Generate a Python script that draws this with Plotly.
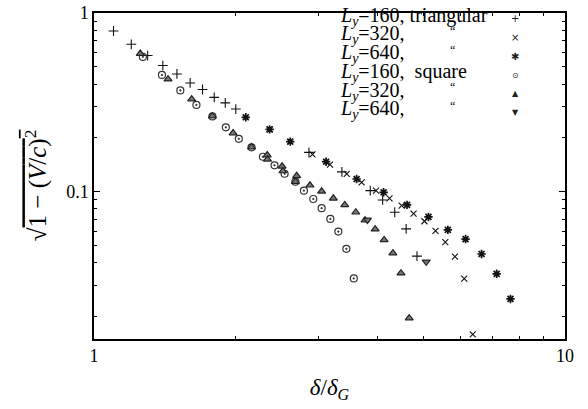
import plotly.graph_objects as go

# ---- data ----
x_tri160 = [1.1, 1.2, 1.3, 1.4, 1.5, 1.6, 1.7, 1.8, 1.9, 2.0, 2.86, 3.36, 3.86, 4.1, 4.35, 4.6, 4.85]
y_tri160 = [0.793, 0.668, 0.578, 0.508, 0.456, 0.406, 0.373, 0.337, 0.314, 0.290, 0.166, 0.129, 0.1013, 0.0899, 0.0767, 0.0619, 0.0436]

x_tri320 = [2.36, 2.91, 3.17, 3.44, 3.70, 3.97, 4.24, 4.50, 4.77, 5.03, 5.31, 5.57, 5.84, 6.11, 6.37]
y_tri320 = [0.2232, 0.1618, 0.1415, 0.1256, 0.1128, 0.1013, 0.0918, 0.0835, 0.0753, 0.0683, 0.0603, 0.0522, 0.0433, 0.0326, 0.0159]

x_tri640 = [2.10, 2.36, 2.61, 3.11, 3.61, 4.12, 4.62, 5.13, 5.64, 6.15, 6.65, 7.16, 7.66]
y_tri640 = [0.2608, 0.2232, 0.1907, 0.1471, 0.1177, 0.0992, 0.0843, 0.0722, 0.0611, 0.0543, 0.0448, 0.0347, 0.0251]

x_sq160 = [1.27, 1.394, 1.525, 1.65, 1.784, 1.905, 2.03, 2.16, 2.284, 2.417, 2.539, 2.677, 2.791, 2.921, 3.043, 3.175, 3.302, 3.434, 3.561]
y_sq160 = [0.568, 0.450, 0.3685, 0.306, 0.2638, 0.2293, 0.1977, 0.177, 0.1568, 0.1404, 0.126, 0.1137, 0.1013, 0.091, 0.0808, 0.0704, 0.0598, 0.0479, 0.0327]

x_sq320 = [1.254, 1.436, 1.612, 1.784, 1.974, 2.16, 2.332, 2.335, 2.508, 2.518, 2.693, 2.677, 2.874, 3.043, 3.222, 3.407, 3.596, 3.763, 3.953, 4.13, 4.311, 4.485, 4.669]
y_sq320 = [0.593, 0.426, 0.3296, 0.2648, 0.2128, 0.1777, 0.1603, 0.1517, 0.1386, 0.1305, 0.1227, 0.1137, 0.1086, 0.1005, 0.0918, 0.0843, 0.0767, 0.0692, 0.0617, 0.0537, 0.0453, 0.0350, 0.0196]

x_sq640 = [3.806, 5.074]
y_sq640 = [0.0695, 0.0405]

legend_labels = [
    "<i>L</i><sub><i>y</i></sub>=160, triangular",
    "<i>L</i><sub><i>y</i></sub>=320,",
    "<i>L</i><sub><i>y</i></sub>=640,",
    "<i>L</i><sub><i>y</i></sub>=160,&nbsp;&nbsp;square",
    "<i>L</i><sub><i>y</i></sub>=320,",
    "<i>L</i><sub><i>y</i></sub>=640,",
]
ditto = [False, True, True, False, True, True]
legend_glyphs = ["+", "×", "✱", "⊙", "▲", "▼"]

x_ticks = [1, 10]
x_ticktext = ["1", "10"]
y_ticks = [0.1, 1]
y_ticktext = ["0.1", "1"]

FONT = "Liberation Serif"
INK = "#111"

series = [
    (x_tri160, y_tri160, dict(symbol="cross-thin-open", size=7, color=INK, line=dict(width=1.1, color=INK))),
    (x_tri320, y_tri320, dict(symbol="x-thin-open", size=6, color=INK, line=dict(width=1.1, color=INK))),
    (x_tri640, y_tri640, dict(symbol="asterisk-open", size=7, color=INK, line=dict(width=1.7, color=INK))),
    (x_sq160, y_sq160, dict(symbol="circle-open-dot", size=7, color="#333", line=dict(width=1.2, color="#333"))),
    (x_sq320, y_sq320, dict(symbol="triangle-up", size=7, color="#777", line=dict(width=1.2, color="#222"))),
    (x_sq640, y_sq640, dict(symbol="triangle-down", size=7, color="#777", line=dict(width=1.2, color="#222"))),
]

fig = go.Figure()
for xs, ys, mk in series:
    fig.add_trace(go.Scatter(x=xs, y=ys, mode="markers", marker=mk, showlegend=False, hoverinfo="skip"))

# legend drawn as annotations (text left, key symbol on the right, as in the reference)
y0, dy = 0.99, 0.0574
for i, lab in enumerate(legend_labels):
    yy = y0 - dy * i
    fig.add_annotation(x=0.518, y=yy, xref="paper", yref="paper", xanchor="left", yanchor="middle",
                       text=lab, showarrow=False, font=dict(family=FONT, size=20, color="black"))
    if ditto[i]:
        fig.add_annotation(x=0.762, y=yy + 0.012, xref="paper", yref="paper", xanchor="center", yanchor="middle",
                           text="“", showarrow=False, font=dict(family=FONT, size=12, color="black"))
    fig.add_annotation(x=0.8947, y=yy - 0.008, xref="paper", yref="paper", xanchor="center", yanchor="middle",
                       text=legend_glyphs[i], showarrow=False,
                       font=dict(family="DejaVu Sans", size=8 if i >= 3 else 10, color="#222"))

axis_common = dict(
    type="log", automargin=False,
    showline=True, linecolor="black", linewidth=1.5, mirror="ticks",
    ticks="inside", ticklen=6, tickwidth=1, tickcolor="black",
    showgrid=False, zeroline=False,
    tickfont=dict(family=FONT, size=18, color="black"),
)

fig.update_xaxes(
    **axis_common,
    range=[0, 1],
    tickmode="array", tickvals=x_ticks, ticktext=x_ticktext,
    minor=dict(tickvals=[2, 3, 4, 5, 6, 7, 8, 9], ticks="inside", ticklen=3, tickcolor="black", showgrid=False),
    title=dict(text="<i>δ</i>/<i>δ</i><sub><i>G</i></sub>", font=dict(family=FONT, size=23, color="black"), standoff=14),
)
fig.update_yaxes(
    **axis_common,
    range=[-1.8246, 0],
    tickmode="array", tickvals=y_ticks, ticktext=y_ticktext,
    minor=dict(tickvals=[0.02, 0.03, 0.04, 0.05, 0.06, 0.07, 0.08, 0.09, 0.2, 0.3, 0.4, 0.5, 0.6, 0.7, 0.8, 0.9],
               ticks="inside", ticklen=3, tickcolor="black", showgrid=False),
    title=dict(text="√<span style='text-decoration:overline'>1 − (<i>V</i>/<i>c</i>)<sup>2</sup></span>&nbsp;&nbsp;&nbsp;",
               font=dict(family=FONT, size=25, color="black"), standoff=12),
)

fig.update_layout(
    width=588, height=409,
    margin=dict(l=94, r=23, t=13, b=70),
    paper_bgcolor="white", plot_bgcolor="white",
    showlegend=False,
)

fig.write_html("out.html")
